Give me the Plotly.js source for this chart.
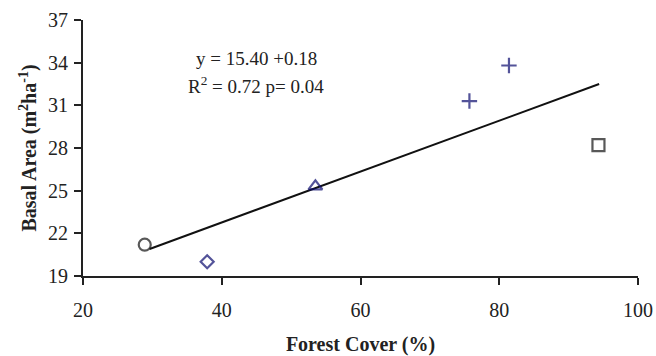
<!DOCTYPE html>
<html><head><meta charset="utf-8">
<script src="https://cdn.plot.ly/plotly-3.0.1.min.js"></script>
<style>html,body{margin:0;padding:0;background:#fff}#chart{width:656px;height:356px}</style>
</head><body><div id="chart"></div>
<script>
// Data
const siteX = [28.9, 37.9, 53.5, 75.7, 81.4, 94.3];
const siteY = [21.2, 20.0, 25.3, 31.3, 33.8, 28.2];
const siteSymbols = ['circle-open', 'diamond-open', 'triangle-up-open', 'cross-thin-open', 'cross-thin-open', 'square-open'];
const siteColors = ['#111111', '#0a0a6e', '#0a0a6e', '#0a0a6e', '#0a0a6e', '#111111'];
const siteSizes = [12, 10, 12, 11, 11, 12];
const trendX = [29.6, 94.4];
const trendY = [20.9, 32.5];
const xTicks = [20, 40, 60, 80, 100];
const yTicks = [19, 22, 25, 28, 31, 34, 37];
const eqLine1 = 'y = 15.40 +0.18';
const eqLine2 = 'R<sup>2</sup> = 0.72 p= 0.04';

const serif = 'Liberation Serif, Times New Roman, serif';

const traces = [
  {x: trendX, y: trendY, mode: 'lines', line: {color: '#111', width: 2}, hoverinfo: 'skip'},
  {x: siteX, y: siteY, mode: 'markers',
   marker: {symbol: siteSymbols, color: siteColors, size: siteSizes,
            line: {color: siteColors, width: 2.2}}}
];

const tickFont = {family: serif, color: '#222', size: 20};

const layout = {
  width: 656, height: 356,
  margin: {l: 83, r: 18, t: 20, b: 80},
  paper_bgcolor: '#fff', plot_bgcolor: '#fff',
  showlegend: false,
  font: {family: serif, color: '#222', size: 19},
  xaxis: {range: [20, 100], tickvals: xTicks, ticktext: xTicks.map(String), tickfont: tickFont,
          showgrid: false, zeroline: false, showline: true, linecolor: '#222', linewidth: 2,
          ticks: 'outside', ticklen: 7, tickwidth: 2, tickcolor: '#222',
          ticklabelstandoff: 8,
          title: {text: '<b>Forest Cover (%)</b>', font: {size: 20, family: serif, color: '#222'}, standoff: 19}},
  yaxis: {range: [19, 37], tickvals: yTicks, ticktext: yTicks.map(String), tickfont: tickFont,
          showgrid: false, zeroline: false, showline: true, linecolor: '#222', linewidth: 2,
          ticks: 'outside', ticklen: 7, tickwidth: 2, tickcolor: '#222',
          ticklabelstandoff: 2,
          title: {text: '<b>Basal Area (m<sup>2</sup>ha<sup>-1</sup>)</b>', font: {size: 20, family: serif, color: '#222'}, standoff: 6}},
  annotations: [
    {xref: 'paper', yref: 'paper', x: (256 - 83) / 555, y: (276 - 58) / 256, text: eqLine1,
     showarrow: false, font: {size: 19, family: serif, color: '#222'}, xanchor: 'center', yanchor: 'middle'},
    {xref: 'paper', yref: 'paper', x: (256 - 83) / 555, y: (276 - 85) / 256, text: eqLine2,
     showarrow: false, font: {size: 19, family: serif, color: '#222'}, xanchor: 'center', yanchor: 'middle'}
  ]
};

Plotly.newPlot('chart', traces, layout, {displayModeBar: false, staticPlot: true});
</script>
</body></html>
